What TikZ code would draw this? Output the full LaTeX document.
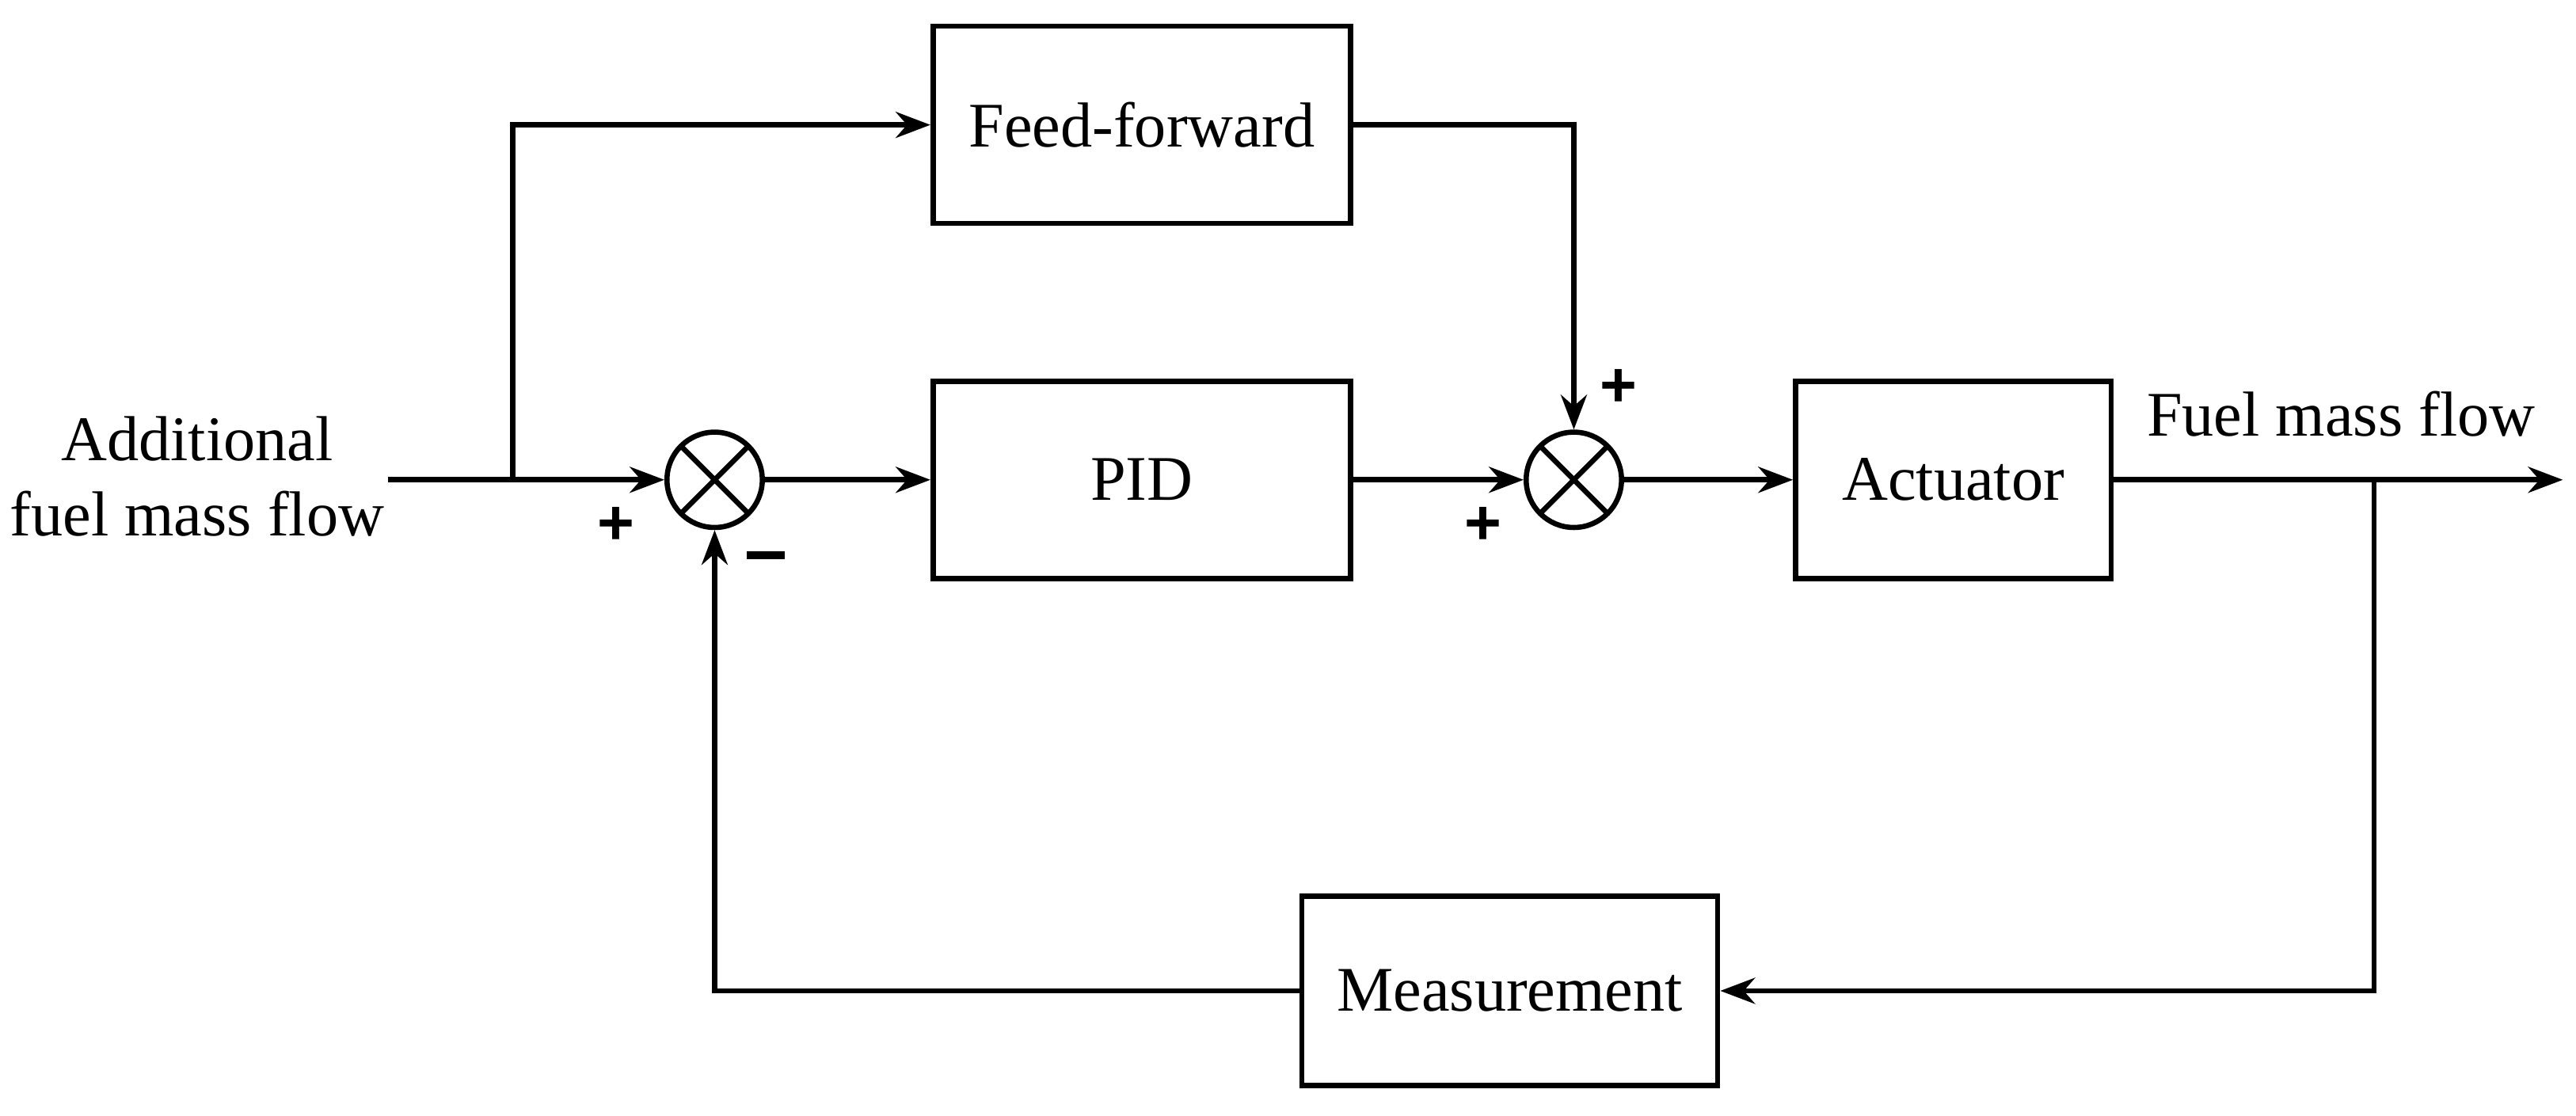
\documentclass[tikz,border=0pt]{standalone}
\usepackage{fontspec}
\setmainfont{Liberation Serif}
\newfontfamily\sgn{Liberation Sans}
\usetikzlibrary{arrows.meta}
\begin{document}
\begin{tikzpicture}[x=0.01cm,y=-0.01cm,
  line width=0.9pt,
  blk/.style={draw,line width=0.9pt,minimum width=2.54cm,inner sep=0pt,font=\fontsize{11}{13}\selectfont},
  sum/.style={draw,circle,minimum size=0.58cm,inner sep=0pt,path picture={\draw (path picture bounding box.north west)--(path picture bounding box.south east) (path picture bounding box.north east)--(path picture bounding box.south west);}},
  arr/.style={-{Stealth[length=6pt,width=4.5pt]}},
  sg/.style={font=\sgn\bfseries\fontsize{11}{13}\selectfont},
  lbl/.style={font=\fontsize{11}{13}\selectfont,align=center}]
\useasboundingbox (0,0) rectangle (1568,679);
\node[blk,minimum height=1.2cm] (ff) at (695,76) {Feed-forward};
\node[blk,minimum height=1.2cm] (pid) at (695,292) {PID};
\node[blk,minimum width=1.92cm,minimum height=1.2cm] (act) at (1189,292) {Actuator};
\node[blk,minimum width=2.53cm,minimum height=1.15cm] (meas) at (919,603) {Measurement};
\node[sum] (s1) at (435,292) {};
\node[sum] (s2) at (958,292) {};
\node[lbl] (in) at (120,290) {Additional\\fuel mass flow};
\node[lbl] (out) at (1425,252) {Fuel mass flow};
\coordinate (a) at (236,292);
\coordinate (b) at (312,292);
\coordinate (e) at (1560,292);
\coordinate (c) at (1445,292);
\draw (a) -- (b);
\draw[arr] (b) -- (s1.west);
\draw[arr] (b) |- (ff.west);
\draw[arr] (ff.east) -| (s2.north);
\draw[arr] (s1.east) -- (pid.west);
\draw[arr] (pid.east) -- (s2.west);
\draw[arr] (s2.east) -- (act.west);
\draw[arr] (act.east) -- (e);
\draw[arr] (c) |- (meas.east);
\draw[arr] (meas.west) -| (s1.south);
\node[sg] (p1) at (375,320) {+};
\node[sg] (m1) at (466,344) {\rule[0.6ex]{0.6em}{1.3pt}};
\node[sg] (p2) at (903,320) {+};
\node[sg] (p3) at (985,236) {+};
\end{tikzpicture}
\end{document}
